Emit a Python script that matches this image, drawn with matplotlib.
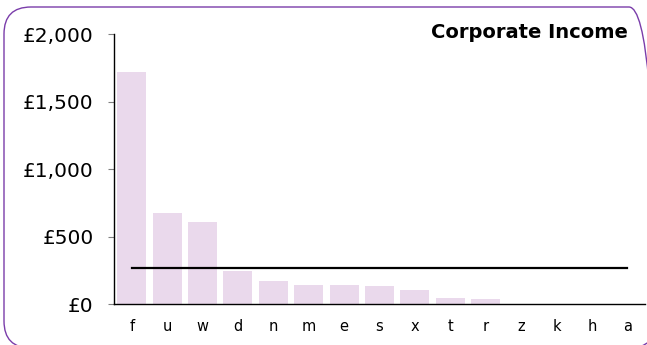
import numpy as np
import matplotlib.pyplot as plt
from matplotlib.patches import FancyBboxPatch
from matplotlib.ticker import FuncFormatter

# income per code, sorted high to low
codes = ["f", "u", "w", "d", "n", "m", "e", "s", "x", "t", "r", "z", "k", "h", "a"]
income = [1720, 674, 610, 247, 173, 141, 141, 133, 104, 47, 39, 0, 0, 0, 0]
y_ticks = [0, 500, 1000, 1500, 2000]

average = np.mean(income)

fig = plt.figure(figsize=(6.47, 3.45), dpi=100)
ax = fig.add_axes([0.1762, 0.1188, 0.8208, 0.7826])

x = np.arange(len(codes))
ax.bar(x, income, width=0.82, color="#EAD9EC")
ax.plot([x[0], x[-1]], [average, average], color="black", lw=1.6)

ax.set_xlim(-0.5, len(codes) - 0.5)
ax.set_ylim(0, 2000)
ax.set_yticks(y_ticks)
ax.yaxis.set_major_formatter(FuncFormatter(lambda v, p: "£{:,.0f}".format(v)))
ax.set_xticks(x)
ax.set_xticklabels(codes)

ax.tick_params(axis="y", length=4.5, width=0.8, color="#808080", pad=10,
               labelsize=14.5)
ax.tick_params(axis="x", length=0, pad=11, labelsize=10.5)
for side in ["top", "right"]:
    ax.spines[side].set_visible(False)
ax.spines["left"].set_linewidth(1)
ax.spines["bottom"].set_linewidth(1)

fig.text(628 / 647, 1 - 33 / 345, "Corporate Income", ha="right", va="center",
         fontsize=14, fontweight="bold")

# rounded frame round the whole chart (inches)
frame = FancyBboxPatch((0.04, -0.03), 6.52, 3.41,
                       boxstyle="round,pad=0,rounding_size=0.27",
                       transform=fig.dpi_scale_trans, fill=False,
                       edgecolor="#7A3DAA", lw=1.0)
fig.patches.append(frame)

fig.savefig("out.png", dpi=100)
